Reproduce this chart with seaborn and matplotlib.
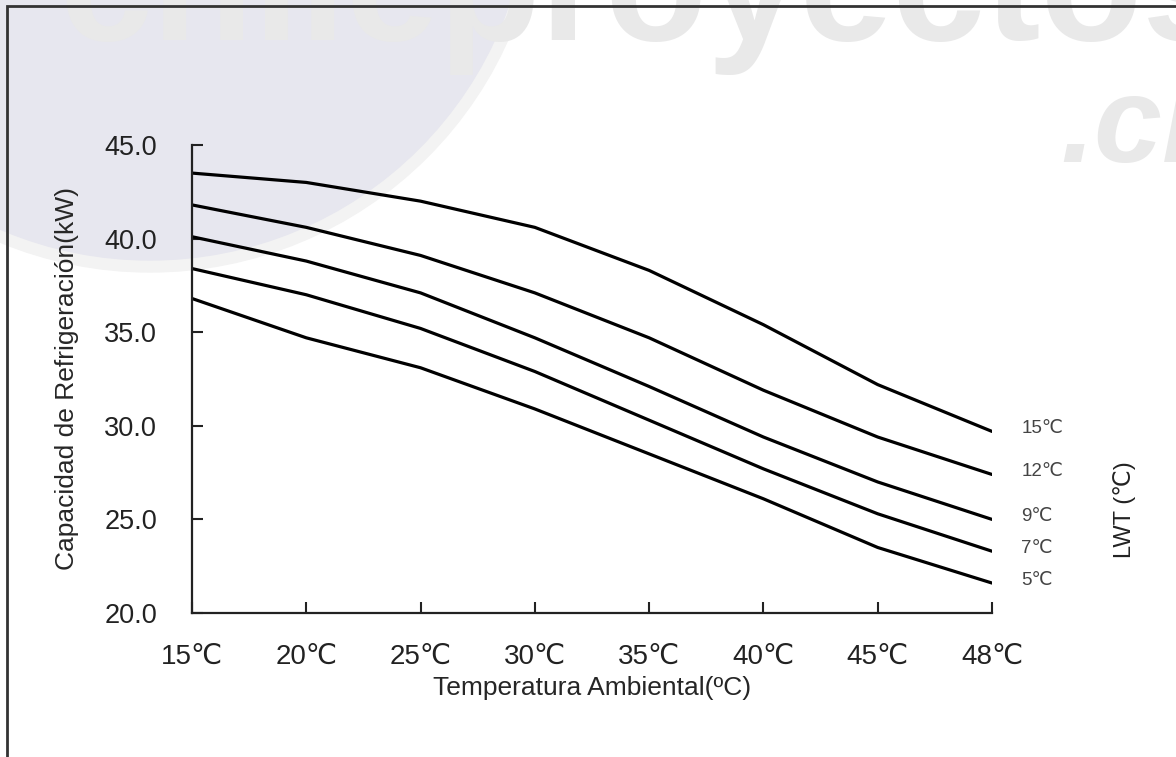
import pandas as pd
import numpy as np
import matplotlib
matplotlib.use("Agg")
import matplotlib.pyplot as plt
from matplotlib.patches import Circle, Rectangle
import seaborn as sns

# ambient temperature categories (equally spaced on the chart)
amb_temps = ["15℃", "20℃", "25℃", "30℃", "35℃", "40℃", "45℃", "48℃"]

# cooling capacity (kW) per leaving water temperature
lwt_labels = ["15℃", "12℃", "9℃", "7℃", "5℃"]
cap_15 = [43.5, 43.0, 42.0, 40.6, 38.3, 35.4, 32.2, 29.7]
cap_12 = [41.8, 40.6, 39.1, 37.1, 34.7, 31.9, 29.4, 27.4]
cap_9 = [40.1, 38.8, 37.1, 34.7, 32.1, 29.4, 27.0, 25.0]
cap_7 = [38.4, 37.0, 35.2, 32.9, 30.3, 27.7, 25.3, 23.3]
cap_5 = [36.8, 34.7, 33.1, 30.9, 28.5, 26.1, 23.5, 21.6]

yticks = [20.0, 25.0, 30.0, 35.0, 40.0, 45.0]

series = [cap_15, cap_12, cap_9, cap_7, cap_5]
rows = []
for lab, vals in zip(lwt_labels, series):
    for i, v in enumerate(vals):
        rows.append({"pos": i, "cap": v, "lwt": lab})
df = pd.DataFrame(rows)

sns.set_style("ticks")
plt.rcParams["font.family"] = ["Liberation Sans", "DejaVu Sans"]

fig = plt.figure(figsize=(11.76, 7.57), dpi=100)
ax = fig.add_axes([192/1176, 1-613/757, 800/1176, 468/757])
ax.set_facecolor("none")

# watermark in the background
wm = fig.add_axes([0, 0, 1, 1], zorder=-5)
wm.set_xlim(0, 1176)
wm.set_ylim(757, 0)
wm.axis("off")
wm.add_patch(Circle((150, -120), 392, color="#f3f3f3", zorder=0))
wm.add_patch(Circle((150, -120), 380, color="#e7e7ef", zorder=1))
wm.text(60, 40, "chileproyectos", fontsize=120, fontweight="bold", color="#e9e9e9",
        ha="left", va="baseline", zorder=2, family="Liberation Sans")
wm.text(1060, 162, ".cl", fontsize=88, fontweight="bold", fontstyle="italic",
        color="#e9e9e9", ha="left", va="baseline", zorder=2, family="Liberation Sans")

sns.lineplot(data=df, x="pos", y="cap", hue="lwt", palette={l: "black" for l in lwt_labels},
             linewidth=2.3, legend=False, ax=ax)

ax.set_xlim(0, len(amb_temps) - 1)
ax.set_ylim(20, 45)
ax.set_xticks(range(len(amb_temps)))
ax.set_xticklabels(amb_temps, fontsize=20, color="#222222")
ax.set_yticks(yticks)
ax.set_yticklabels([f"{t:.1f}" for t in yticks], fontsize=19.5, color="#222222")
ax.tick_params(axis="both", direction="in", length=8, width=1.5, color="#222222")
ax.tick_params(axis="x", pad=22)
ax.tick_params(axis="y", pad=25)
for s in ["top", "right"]:
    ax.spines[s].set_visible(False)
for s in ["left", "bottom"]:
    ax.spines[s].set_linewidth(1.6)
    ax.spines[s].set_color("#222222")

ax.set_xlabel("Temperatura Ambiental(ºC)", fontsize=19, labelpad=5)
ax.set_ylabel("Capacidad de Refrigeración(kW)", fontsize=19, labelpad=18)

# right-hand curve labels
for lab, vals in zip(lwt_labels, series):
    ax.annotate(lab, xy=(len(amb_temps) - 1, vals[-1]), xytext=(21, 2),
                textcoords="offset points", fontsize=13.5, color="#444444",
                va="center", ha="left", annotation_clip=False)

fig.text(1125/1176, 1-510/757, "LWT (℃)", rotation=90, fontsize=17,
         color="#222222", ha="center", va="center")

# frame around the picture
fig.patches.append(Rectangle((7/1176, -0.2), 1.2, 1.2 - 6/757, transform=fig.transFigure,
                             fill=False, edgecolor="#333333", linewidth=2, zorder=10))

fig.savefig("out.png", dpi=100)
